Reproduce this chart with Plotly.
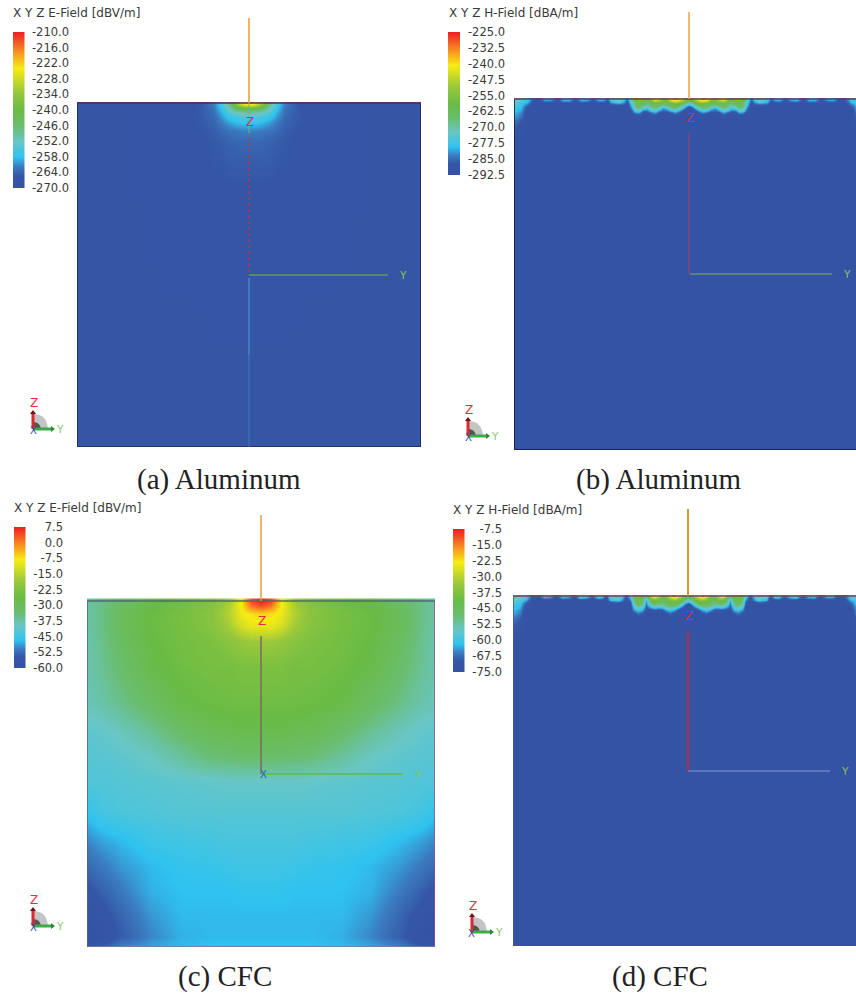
import plotly.graph_objects as go

W, H = 856, 995
SCALE = [[0, '#3452a4'], [0.08, '#3556a6'], [0.14, '#3b7cc1'], [0.2, '#2fc3f0'], [0.3, '#69c6c6'],
         [0.4, '#6abd6e'], [0.5, '#69bb45'], [0.62, '#9ac83c'], [0.77, '#f7ec13'], [0.87, '#f8941f'], [1, '#ee2024']]

# ---------- (a) Aluminum, E-field [dBV/m]: half plate, offset from the feed, depth below the top edge
a_off = [0, 6, 12, 20, 28, 36, 50, 80, 120, 172]
a_depth = [0, 2, 5, 9, 14, 20, 28, 38, 55, 90, 344]
a_z = [
    [-222, -224, -232, -246, -256, -262, -265.5, -266.5, -267, -267],
    [-226, -228, -236, -248, -256.5, -262, -265.5, -266.5, -267, -267],
    [-240, -241, -243, -251, -257.5, -262.5, -265, -266, -267, -267],
    [-249, -249.5, -251, -254, -259, -263, -265, -266, -266.5, -267],
    [-254, -254.5, -255.5, -257, -260.5, -263.5, -265, -266, -266.5, -267],
    [-258, -258, -258.5, -260, -262, -264, -265, -266, -266.5, -267],
    [-261.5, -261.5, -262, -262.5, -263.5, -264.5, -265.5, -266, -266.5, -267],
    [-263.5, -263.5, -263.5, -264, -264.5, -265, -265.5, -266, -266.5, -267],
    [-264.5, -264.5, -264.5, -264.5, -265, -265, -265.5, -266, -266.5, -267],
    [-265.5, -265.5, -265.5, -265.5, -265.5, -265.5, -266, -266, -266.5, -267],
    [-267, -267, -267, -267, -267, -267, -267, -267, -267, -267],
]
a_ticks = [-210.0, -216.0, -222.0, -228.0, -234.0, -240.0, -246.0, -252.0, -258.0, -264.0, -270.0]

# ---------- (c) CFC, E-field [dBV/m]
c_off = [0, 10, 20, 32, 50, 80, 110, 140, 160, 174]
c_depth = [0, 5, 12, 25, 40, 65, 100, 130, 155, 180, 210, 240, 265, 290, 315, 335, 343, 346]
c_z = [
    [7, 4, -8, -17, -22, -25, -27, -32, -35, -37],
    [3, 0, -8, -16, -21.5, -24.5, -26.5, -31, -35, -37],
    [-6, -7, -9, -15, -21, -24, -26, -30, -35, -37],
    [-10, -10, -12, -17, -21.5, -24, -26, -30, -35, -37.5],
    [-18, -18, -19, -21, -23, -24.5, -26.5, -31, -35.5, -38],
    [-23, -23, -23, -24, -24, -25, -27.5, -32.5, -36, -38],
    [-25, -25, -25, -25, -25.5, -27, -31, -35, -37.5, -38.5],
    [-28, -28, -28, -28.5, -29, -32, -36, -39, -40.5, -41],
    [-32.5, -32.5, -32.5, -33, -33.5, -36.5, -39.5, -41, -41.5, -42],
    [-40, -40, -40, -40, -40.5, -41, -41.5, -42, -42.5, -42.5],
    [-42, -42, -42, -42, -42, -42, -42.5, -43, -44, -46],
    [-43.5, -43.5, -43.5, -43.5, -44, -44.5, -45, -47, -48.5, -50],
    [-44.5, -44.5, -44.5, -45, -45.5, -46, -47, -49, -51, -52.5],
    [-46, -46, -46, -46.5, -46.5, -46.5, -47.5, -51, -53.5, -55.5],
    [-47, -47, -47, -47, -47, -47, -49, -53, -56, -58],
    [-47, -47, -47, -47, -47, -47.5, -50, -54, -57.5, -59.5],
    [-46.5, -46.5, -46.5, -46.5, -46.5, -47, -48.5, -51, -55, -58],
    [-46, -46, -46, -46, -46, -46.5, -47.5, -49, -52, -56],
]
c_ticks = [7.5, 0.0, -7.5, -15.0, -22.5, -30.0, -37.5, -45.0, -52.5, -60.0]

# ---------- (b) / (d) H-field: shared column offsets
h_off = [0, 3, 6, 10, 14, 18, 22, 26, 30, 34, 38, 42, 46, 50, 54, 58, 62, 66, 70, 74, 78, 82, 86, 90, 96, 102, 108,
         114, 120, 126, 132, 138, 144, 150, 156, 162, 168, 172, 175]

BF = -291
b_depth = [0, 2, 4, 6, 8, 10, 12, 14, 17, 22, 30, 42, 351]
b_z = [
    [-258, -255, -248, -240, -233, -238, -252, -254, -246, -240, -250, -262, -254, -252, -258, -270, -285, -276, -270,
     -274, -276, -285, -279, -278, -286, -279, -278, -288, -278, -278, -288, -280, -278, -288, -286, -277, -274, -272, -270],
    [-264, -260, -254, -248, -243, -248, -258, -258, -252, -248, -256, -266, -258, -257, -262, -273, -287, -278, -272,
     -276, -278, -288, -283, -282, -290, -283, -282, -290, -282, -282, -290, -284, -283, -290, -288, -278, -275, -273, -272],
    [-272, -268, -262, -258, -256, -259, -263, -262, -260, -261, -263, -266, -262, -262, -266, -276, -289, -283, -280,
     -281, -283] + [BF] * 14 + [-281, -277, -275, -274],
    [-280, -276, -268, -262, -261, -262, -265, -268, -264, -263, -265, -270, -266, -263, -266, -279, -291, -289, -288,
     -288, -289] + [BF] * 14 + [-285, -278, -276, -276],
    [-290, -284, -276, -268, -264, -266, -273, -277, -270, -266, -268, -274, -272, -265, -268, -282] + [BF] * 19 + [-288, -279, -278, -278],
    [-291, -289, -283, -275, -270, -272, -280, -283, -276, -270, -273, -280, -278, -270, -272, -285] + [BF] * 19 + [-290, -280, -279, -279],
    [-291, -291, -288, -282, -277, -280, -285, -286, -283, -276, -279, -285, -285, -276, -277, -288] + [BF] * 20 + [-281, -279, -279],
    [-291, -291, -291, -288, -284, -287, -291, -291, -290, -283, -286, -290, -290, -283, -284, -290] + [BF] * 20 + [-283, -281, -280],
    [BF] * 9 + [-289, -290, BF, BF, -289, -290, BF] + [BF] * 20 + [-284, -282, -281],
    [BF] * 36 + [-287, -285, -284],
    [BF] * 36 + [-290, -288, -287],
    [BF] * 39,
    [BF] * 39,
]
b_ticks = [-225.0, -232.5, -240.0, -247.5, -255.0, -262.5, -270.0, -277.5, -285.0, -292.5]

DF = -73.5
d_depth = [0, 2, 4, 6, 8, 10, 12, 14, 17, 22, 30, 42, 350]
d_z = [
    [-42, -38, -32, -24, -15, -22, -36, -38, -28, -20, -30, -48, -40, -36, -44, -58, -70, -60, -50, -52, -55, -70, -60,
     -58, -68, -60, -58, -70, -62, -60, -72, -62, -60, -71, -70, -59, -54, -52, -50],
    [-48, -44, -38, -32, -25, -32, -42, -42, -36, -30, -38, -54, -42, -40, -46, -62, -72, -62, -54, -55, -58, -72, -64,
     -62, -71, -64, -62, -72, -65, -64, -73, -66, -65, -73, -71, -60, -55, -54, -53],
    [-54, -50, -43, -38, -36, -38, -42, -42, -40, -42, -46, -60, -44, -42, -48, -66, -72, -65, -58, -60, -62] + [DF] * 14 + [-63, -58, -56, -55],
    [-62, -58, -48, -42, -41, -42, -45, -48, -44, -43, -48, -64, -48, -44, -50, -70, -73.5, -70, -68, -68, -70] + [DF] * 14 + [-67, -60, -58, -58],
    [-72, -66, -56, -48, -44, -46, -48, -50, -50, -47, -54, -66, -50, -46, -52, -72] + [DF] * 19 + [-70, -61, -60, -60],
    [DF, -71, -64, -56, -48, -48, -50, -56, -56, -54, -60, -68, -54, -50, -56, DF] + [DF] * 19 + [-72, -62, -61, -61],
    [DF, DF, -70, -63, -56, -54, -56, -63, -64, -62, -66, -70, -58, -55, -60, DF] + [DF] * 20 + [-63, -61, -61],
    [DF, DF, DF, -70, -63, -60, -63, -70, -70, -70, -72, -72, -62, -60, -64, DF] + [DF] * 20 + [-65, -63, -62],
    [DF, DF, DF, DF, -71, -67, -71, DF, DF, DF, DF, DF, -69, -66, -70, DF] + [DF] * 20 + [-66, -64, -63],
    [DF] * 36 + [-69, -67, -66],
    [DF] * 36 + [-72, -70, -69],
    [DF] * 39,
    [DF] * 39,
]
d_ticks = [-7.5, -15.0, -22.5, -30.0, -37.5, -45.0, -52.5, -60.0, -67.5, -75.0]

fig = go.Figure()
layout = dict(width=W, height=H, margin=dict(l=0, r=0, t=0, b=0, pad=0, autoexpand=False), paper_bgcolor='white',
              plot_bgcolor='rgba(0,0,0,0)', showlegend=False, shapes=[], annotations=[])
TXT = 'DejaVu Sans'


def px(x):
    return x / W


def py(y):
    return 1 - y / H


def mirror_x(off):
    return [-v for v in off[::-1][:-1]] + off


def mirror_row(r):
    return r[::-1][:-1] + r


def note(x, y, text, size, color, family=TXT, xanchor='center', xref='paper', yref='paper'):
    layout['annotations'].append(dict(x=x, y=y, xref=xref, yref=yref, text=text, showarrow=False, xanchor=xanchor,
                                      yanchor='middle', font=dict(family=family, size=size, color=color)))


def panel(n, off, depth, z, vmin, vmax, box, antenna_top, zline, yline, colors, lines):
    """n: axis index; box = plate px (left, top, right, bottom, centre x)."""
    L, T, R, B, C = box
    xn, yn = f'x{n}', f'y{n}'
    layout[f'xaxis{n}'] = dict(domain=[px(L), px(R)], range=[L - C, R - C], visible=False, anchor=yn, fixedrange=True)
    layout[f'yaxis{n}'] = dict(domain=[py(B), py(antenna_top)], range=[B - T, antenna_top - T], visible=False, anchor=xn, fixedrange=True)
    fig.add_trace(go.Heatmap(x=mirror_x(off), y=depth, z=[mirror_row(r) for r in z], zmin=vmin, zmax=vmax,
                             colorscale=SCALE, zsmooth='best', showscale=False, xaxis=xn, yaxis=yn, hoverinfo='skip'))

    def seg(xs, ys, color, width=1.0, dash='solid'):
        fig.add_trace(go.Scatter(x=xs, y=ys, mode='lines', line=dict(color=color, width=width, dash=dash),
                                 xaxis=xn, yaxis=yn, cliponaxis=False, hoverinfo='skip'))

    plate_h = B - T
    seg([L - C, L - C], [0, plate_h], colors['left'], 1.5)
    seg([L - C, R - C], [plate_h, plate_h], colors['bottom'], 1.5)
    if R < W:
        seg([R - C, R - C], [0, plate_h], colors['right'], 1.5)
    seg([L - C, R - C], [0, 0], colors['top'], 1.5)
    seg([0, 0], [antenna_top - T, 0], colors['antenna'], lines['ant_w'])
    if 'stem' in colors:
        seg([0, 0], [0, zline[0] - 4], colors['stem'], 1.0)
    seg([0, 0], [zline[0], yline[0]], colors['z'], lines['z_w'], lines['z_dash'])
    seg([lines['y0'], yline[1]], [yline[0], yline[0]], colors['y'], lines['y_w'])
    if 'tail' in colors:
        seg([0, 0], [yline[0] + 3, yline[0] + 80], colors['tail'], 1.0)
        seg([0, 0], [yline[0] + 80, plate_h], colors['tail2'], 1.0)
    if 'x' in colors:
        note(2, yline[0], 'X', 10, colors['x'], xref=xn, yref=yn)
    note(1, zline[0] - 15, 'Z', 12, '#d8303a', xref=xn, yref=yn)
    note(yline[1] + 15, yline[0], 'Y', 10.5, '#86c45a', xref=xn, yref=yn)


def colorbar(n, ticks, bar, right_edge, title, title_xy):
    x0, y0, x1, y1 = bar
    vmax, vmin = ticks[0], ticks[-1]
    xn, yn = f'x{n}', f'y{n}'
    layout[f'xaxis{n}'] = dict(domain=[px(x0), px(x1)], range=[0, 1], visible=False, anchor=yn, fixedrange=True)
    layout[f'yaxis{n}'] = dict(domain=[py(y1), py(y0)], range=[vmin, vmax], anchor='free', position=px(right_edge + 1),
                               side='left', showgrid=False, zeroline=False, showline=False, ticks='', fixedrange=True,
                               tickvals=ticks, ticktext=[f'{t:.1f}' for t in ticks],
                               tickfont=dict(family=TXT, size=11.5, color='#3a3a3a'))
    fig.add_trace(go.Heatmap(x=[0, 1], y=[vmin, vmax], z=[[vmin, vmin], [vmax, vmax]], zmin=vmin, zmax=vmax,
                             colorscale=SCALE, zsmooth='best', showscale=False, xaxis=xn, yaxis=yn, hoverinfo='skip'))
    note(px(title_xy[0]), py(title_xy[1]), title, 12, '#3a3a3a', xanchor='left')


def triad(ox, oy):
    def p(dx, dy):
        return f'{px(ox + dx):.5f} {py(oy + dy):.5f}'
    S = layout['shapes']
    S.append(dict(type='path', xref='paper', yref='paper', fillcolor='#c4c4c4', line=dict(width=0),
                  path=f'M {p(0, 0)} L {p(0, -15)} Q {p(14, -15)} {p(15, 0)} Z'))
    S.append(dict(type='path', xref='paper', yref='paper', fillcolor='#555555', line=dict(width=0),
                  path=f'M {p(0, 0)} L {p(0, -7)} Q {p(7, -7)} {p(8, 0)} Z'))
    S.append(dict(type='line', xref='paper', yref='paper', x0=px(ox), y0=py(oy), x1=px(ox + 20), y1=py(oy),
                  line=dict(color='#3eaa47', width=3)))
    S.append(dict(type='path', xref='paper', yref='paper', fillcolor='#2a8a38', line=dict(width=0),
                  path=f'M {p(18, -3)} L {p(22, 0)} L {p(18, 3)} Z'))
    S.append(dict(type='line', xref='paper', yref='paper', x0=px(ox), y0=py(oy), x1=px(ox), y1=py(oy - 17),
                  line=dict(color='#d82a30', width=3)))
    S.append(dict(type='path', xref='paper', yref='paper', fillcolor='#701018', line=dict(width=0),
                  path=f'M {p(-3, -15)} L {p(0, -19)} L {p(3, -15)} Z'))
    note(px(ox), py(oy + 1), 'X', 10, '#3050b0')
    note(px(ox + 1), py(oy - 26), 'Z', 12, '#e03038')
    note(px(ox + 27), py(oy), 'Y', 10.5, '#8cc870')


panel(1, a_off, a_depth, a_z, a_ticks[-1], a_ticks[0], (77, 103, 421, 447, 249), 18, (34, 172), (172, 139),
      dict(left='#20264a', bottom='#20264a', right='#20264a', top='#6a1f5e', antenna='#f59a2a', z='#c8323f',
           y='#7ab648', tail='#4aa0d8', tail2='#3d78bd', stem='#6db49a'),
      dict(ant_w=1.5, z_w=1.2, z_dash='dot', y0=0, y_w=1.0))
panel(2, h_off, b_depth, b_z, b_ticks[-1], b_ticks[0], (514, 99, 856, 450, 689), 12, (34, 175), (175, 143),
      dict(left='#15151f', bottom='#15151f', right='#15151f', top='#6a3a5e', antenna='#f0a040', z='#a84458', y='#7ab648'),
      dict(ant_w=1.5, z_w=1.0, z_dash='solid', y0=1, y_w=1.0))
panel(3, c_off, c_depth, c_z, c_ticks[-1], c_ticks[0], (87, 601, 435, 947, 261), 515, (35, 173), (173, 142),
      dict(left='#55656e', bottom='#666670', right='#a04c88', top='#4f6a70', antenna='#e0a030', z='#7d6a60', y='#62b84a',
           x='#2a60c0'),
      dict(ant_w=1.5, z_w=1.5, z_dash='solid', y0=2, y_w=1.5))
panel(4, h_off, d_depth, d_z, d_ticks[-1], d_ticks[0], (513, 596, 856, 946, 688), 509, (35, 175), (175, 142),
      dict(left='#555560', bottom='#555560', right='#555560', top='#6a4a60', antenna='#d88a20', z='#d8242c', y='#7f9cd0'),
      dict(ant_w=1.8, z_w=1.5, z_dash='solid', y0=0, y_w=1.0))

colorbar(5, a_ticks, (13, 32, 24.5, 188), 68, 'X Y Z E-Field [dBV/m]', (11, 13))
colorbar(6, b_ticks, (448, 32, 460, 175), 504, 'X Y Z H-Field [dBA/m]', (447, 13))
colorbar(7, c_ticks, (14, 527, 25.5, 668), 62, 'X Y Z E-Field [dBV/m]', (12, 508))
colorbar(8, d_ticks, (453, 529, 464.5, 672), 501, 'X Y Z H-Field [dBA/m]', (451, 510))

for ox, oy in [(33, 429), (468, 436), (33, 926), (472, 932)]:
    triad(ox, oy)

captions = ['(a) Aluminum', '(b) Aluminum', '(c) CFC', '(d) CFC']
cap_xy = [(219, 479), (659, 479), (225, 976), (660, 976)]
for t, (cx, cy) in zip(captions, cap_xy):
    note(px(cx), py(cy), t, 29, '#222222', family='Liberation Serif')

fig.update_layout(**layout)
fig.write_html('out.html', config=dict(displayModeBar=False),
               post_script="document.body.style.margin='0';document.body.style.overflow='hidden';")
